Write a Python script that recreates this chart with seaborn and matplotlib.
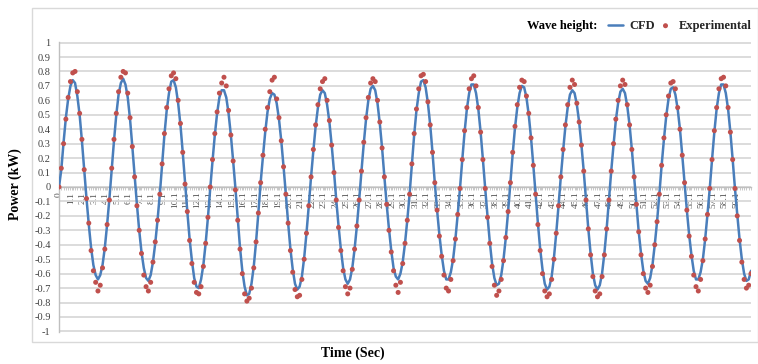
import numpy as np
import pandas as pd
import matplotlib
matplotlib.use("Agg")
import matplotlib.pyplot as plt
from matplotlib.patches import Rectangle
from matplotlib.ticker import MultipleLocator
import seaborn as sns

# Sampling interval of both records (seconds)
SAMPLE_STEP = 0.2

# CFD power output (kW), one row per wave cycle
cfd_power = [
    0.00, 0.12, 0.31, 0.48, 0.61, 0.70, 0.74, 0.72, 0.63, 0.50, 0.32, 0.12, -0.08, -0.26, -0.42, -0.54, -0.61, -0.64, -0.61, -0.54, -0.42, -0.26, -0.08,
    0.12, 0.32, 0.50, 0.64, 0.72, 0.75, 0.71, 0.62, 0.47, 0.28, 0.08, -0.12, -0.30, -0.45, -0.56, -0.63, -0.65, -0.61, -0.52, -0.39, -0.23, -0.05,
    0.16, 0.36, 0.53, 0.65, 0.73, 0.74, 0.69, 0.58, 0.43, 0.24, 0.03, -0.17, -0.36, -0.51, -0.63, -0.69, -0.70, -0.64, -0.54, -0.39, -0.21, -0.01,
    0.18, 0.36, 0.51, 0.62, 0.67, 0.67, 0.62, 0.51, 0.36, 0.18, -0.01, -0.22, -0.42, -0.58, -0.69, -0.75, -0.74, -0.67, -0.55, -0.38, -0.18,
    0.03, 0.21, 0.38, 0.52, 0.61, 0.65, 0.64, 0.58, 0.47, 0.32, 0.14, -0.05, -0.25, -0.43, -0.57, -0.67, -0.71, -0.69, -0.62, -0.49, -0.32, -0.13,
    0.07, 0.25, 0.42, 0.55, 0.64, 0.67, 0.65, 0.57, 0.45, 0.29, 0.11, -0.09, -0.27, -0.43, -0.56, -0.64, -0.67, -0.64, -0.56, -0.43, -0.27, -0.09,
    0.11, 0.30, 0.47, 0.60, 0.68, 0.70, 0.67, 0.58, 0.44, 0.27, 0.07, -0.12, -0.29, -0.44, -0.56, -0.62, -0.64, -0.60, -0.52, -0.39, -0.23, -0.05,
    0.16, 0.36, 0.53, 0.65, 0.73, 0.74, 0.69, 0.58, 0.43, 0.24, 0.03, -0.16, -0.33, -0.47, -0.58, -0.64, -0.64, -0.59, -0.50, -0.36, -0.19, -0.01,
    0.19, 0.38, 0.54, 0.65, 0.71, 0.71, 0.65, 0.54, 0.38, 0.19, -0.01, -0.20, -0.38, -0.53, -0.63, -0.68, -0.67, -0.61, -0.50, -0.35, -0.17,
    0.03, 0.23, 0.41, 0.55, 0.65, 0.70, 0.69, 0.62, 0.50, 0.34, 0.15, -0.05, -0.25, -0.43, -0.57, -0.67, -0.71, -0.69, -0.62, -0.49, -0.32, -0.13,
    0.07, 0.25, 0.42, 0.55, 0.64, 0.67, 0.65, 0.57, 0.45, 0.29, 0.11, -0.09, -0.29, -0.46, -0.60, -0.68, -0.71, -0.68, -0.60, -0.46, -0.29, -0.09,
    0.11, 0.29, 0.46, 0.58, 0.66, 0.68, 0.65, 0.56, 0.43, 0.26, 0.07, -0.12, -0.31, -0.46, -0.58, -0.65, -0.67, -0.63, -0.54, -0.40, -0.24, -0.05,
    0.15, 0.33, 0.49, 0.61, 0.68, 0.69, 0.64, 0.54, 0.40, 0.22, 0.03, -0.16, -0.33, -0.47, -0.58, -0.64, -0.64, -0.59, -0.50, -0.36, -0.19, -0.01,
    0.19, 0.38, 0.54, 0.65, 0.71, 0.71, 0.65, 0.54, 0.38, 0.19, -0.01, -0.19, -0.36, -0.50, -0.60, -0.65, -0.64, -0.58,
]

# Measured power output (kW), same sampling, one row per wave cycle
experimental_power = [
    0.00, 0.13, 0.30, 0.47, 0.62, 0.73, 0.79, 0.80, 0.66, 0.51, 0.33, 0.12, -0.08, -0.25, -0.44, -0.58, -0.66, -0.72, -0.68, -0.56, -0.43, -0.26, -0.09,
    0.13, 0.33, 0.51, 0.66, 0.76, 0.80, 0.79, 0.65, 0.48, 0.28, 0.07, -0.13, -0.30, -0.46, -0.61, -0.69, -0.72, -0.66, -0.52, -0.38, -0.23, -0.05,
    0.16, 0.37, 0.55, 0.68, 0.77, 0.79, 0.75, 0.60, 0.44, 0.24, 0.02, -0.17, -0.37, -0.53, -0.66, -0.73, -0.74, -0.69, -0.55, -0.39, -0.21, 0.00,
    0.19, 0.37, 0.52, 0.65, 0.72, 0.76, 0.70, 0.53, 0.36, 0.18, -0.02, -0.23, -0.43, -0.60, -0.74, -0.79, -0.77, -0.70, -0.56, -0.38, -0.18,
    0.03, 0.22, 0.40, 0.55, 0.66, 0.74, 0.76, 0.61, 0.48, 0.32, 0.14, -0.05, -0.25, -0.44, -0.59, -0.71, -0.76, -0.75, -0.64, -0.50, -0.32, -0.13,
    0.07, 0.26, 0.43, 0.57, 0.68, 0.73, 0.75, 0.60, 0.46, 0.29, 0.10, -0.09, -0.28, -0.44, -0.58, -0.69, -0.74, -0.70, -0.57, -0.43, -0.27, -0.09,
    0.11, 0.31, 0.48, 0.62, 0.72, 0.75, 0.73, 0.60, 0.45, 0.27, 0.07, -0.12, -0.30, -0.45, -0.58, -0.68, -0.73, -0.66, -0.53, -0.39, -0.23, -0.05,
    0.16, 0.37, 0.54, 0.68, 0.77, 0.78, 0.73, 0.59, 0.43, 0.24, 0.03, -0.16, -0.34, -0.48, -0.61, -0.70, -0.72, -0.64, -0.51, -0.36, -0.19, -0.01,
    0.19, 0.39, 0.55, 0.68, 0.75, 0.77, 0.70, 0.55, 0.38, 0.19, -0.01, -0.21, -0.39, -0.55, -0.68, -0.75, -0.72, -0.64, -0.51, -0.35, -0.17,
    0.03, 0.24, 0.42, 0.57, 0.69, 0.74, 0.73, 0.63, 0.51, 0.34, 0.15, -0.05, -0.26, -0.44, -0.60, -0.72, -0.76, -0.74, -0.64, -0.50, -0.32, -0.13,
    0.07, 0.26, 0.43, 0.57, 0.69, 0.74, 0.71, 0.58, 0.45, 0.29, 0.11, -0.09, -0.29, -0.47, -0.62, -0.72, -0.76, -0.74, -0.62, -0.47, -0.29, -0.09,
    0.11, 0.30, 0.47, 0.60, 0.70, 0.74, 0.71, 0.57, 0.43, 0.26, 0.07, -0.12, -0.31, -0.47, -0.60, -0.70, -0.73, -0.68, -0.55, -0.40, -0.24, -0.05,
    0.15, 0.34, 0.50, 0.63, 0.72, 0.73, 0.68, 0.55, 0.40, 0.22, 0.03, -0.16, -0.34, -0.48, -0.61, -0.69, -0.72, -0.64, -0.51, -0.36, -0.19, -0.01,
    0.19, 0.39, 0.55, 0.68, 0.75, 0.76, 0.70, 0.55, 0.38, 0.19, -0.01, -0.20, -0.37, -0.52, -0.64, -0.70, -0.68, -0.60,
]

time_tick_labels = [
    "0", "1.1", "2.1", "3.1", "4.1", "5.1", "6.1", "7.1", "8.1", "9.1",
    "10.1", "11.1", "12.1", "13.1", "14.1", "15.1", "16.1", "17.1", "18.1", "19.1",
    "20.1", "21.1", "22.1", "23.1", "24.1", "25.1", "26.1", "27.1", "28.1", "29.1",
    "30.1", "31.1", "32.1", "33.1", "34.1", "35.1", "36.1", "37.1", "38.1", "39.1",
    "40.1", "41.1", "42.1", "43.1", "44.1", "45.1", "46.1", "47.1", "48.1", "49.1",
    "50.1", "51.1", "52.1", "53.1", "54.1", "55.1", "56.1", "57.1", "58.1", "59.1",
]

power_tick_labels = [
    "1", "0.9", "0.8", "0.7", "0.6", "0.5", "0.4", "0.3", "0.2", "0.1", "0",
    "-0.1", "-0.2", "-0.3", "-0.4", "-0.5", "-0.6", "-0.7", "-0.8", "-0.9", "-1",
]

CFD_BLUE = "#4A7EBB"
EXP_RED = "#C0504D"
GRID_GREY = "#D9D9D9"
AXIS_GREY = "#BFBFBF"
TICK_TEXT = "#404040"

sns.set_theme(style="white")
plt.rcParams["font.family"] = ["Liberation Serif", "DejaVu Serif"]

time_s = np.arange(len(cfd_power)) * SAMPLE_STEP
df = pd.DataFrame({
    "Time": time_s,
    "CFD": cfd_power,
    "Experimental": experimental_power,
})

W_PX, H_PX = 758, 364
fig = plt.figure(figsize=(W_PX / 100, H_PX / 100), dpi=100)
fig.patch.set_facecolor("white")

# Plot area in pixel terms: x 59..751, y 42..332
ax = fig.add_axes([59 / W_PX, (H_PX - 332) / H_PX, 692 / W_PX, 290 / H_PX])
ax.set_facecolor("white")

sns.lineplot(data=df, x="Time", y="CFD", ax=ax, color=CFD_BLUE,
             linewidth=1.8, label="CFD", sort=False, zorder=3)
sns.scatterplot(data=df, x="Time", y="Experimental", ax=ax, color=EXP_RED,
                s=13, marker="o", edgecolor="none", label="Experimental",
                zorder=4)

ax.set_xlim(0, time_s[-1])
ax.set_ylim(-1.004, 1.004)

# Horizontal gridlines only
power_ticks = [float(s) for s in power_tick_labels]
ax.set_yticks(power_ticks)
ax.set_yticklabels(power_tick_labels)
ax.yaxis.grid(True, color=GRID_GREY, linewidth=1.3)
ax.xaxis.grid(False)
ax.set_axisbelow(True)

# Time axis drawn through zero, labels rotated
time_ticks = [float(s) for s in time_tick_labels]
ax.set_xticks(time_ticks)
ax.set_xticklabels(time_tick_labels)
ax.xaxis.set_minor_locator(MultipleLocator(SAMPLE_STEP))

for side in ("top", "right"):
    ax.spines[side].set_visible(False)
ax.spines["left"].set_color(AXIS_GREY)
ax.spines["left"].set_linewidth(1.0)
ax.spines["bottom"].set_position(("data", 0))
ax.spines["bottom"].set_color(AXIS_GREY)
ax.spines["bottom"].set_linewidth(1.0)

ax.tick_params(axis="x", which="both", direction="out", length=2.5,
               width=0.6, color=AXIS_GREY, pad=1, labelsize=6.8,
               labelcolor="#505050", bottom=True, labelrotation=90)
ax.tick_params(axis="y", which="both", length=0, pad=6, labelsize=7.5,
               labelcolor=TICK_TEXT)

ax.set_xlabel("Time (Sec)", fontsize=10, fontweight="bold", color="black")
ax.xaxis.set_label_coords((352.7 - 59) / 692, (332 - 347) / 290)
ax.set_ylabel("Power (kW)", fontsize=10, fontweight="bold", color="black")
ax.yaxis.label.set_va("center")
ax.yaxis.set_label_coords((15 - 59) / 692, (332 - 184) / 290)

# Legend strip above the plot area
handles, labels = ax.get_legend_handles_labels()
ax.legend(handles, labels, loc="center left",
          bbox_to_anchor=(608 / W_PX, 1 - 26 / H_PX),
          bbox_transform=fig.transFigure, ncol=2, frameon=False,
          borderpad=0, borderaxespad=0, handlelength=1.2,
          handletextpad=0.5, columnspacing=0.25, markerscale=1.0,
          prop={"size": 9, "weight": "bold"})
fig.text(527 / W_PX, 1 - 26 / H_PX, "Wave height:", ha="left", va="center",
         fontsize=9, fontweight="bold", color="black")

# Chart border
fig.add_artist(Rectangle((32 / W_PX, 1 - 342 / H_PX), (W_PX - 32.5) / W_PX,
                         (342 - 8) / H_PX, transform=fig.transFigure,
                         fill=False, edgecolor=GRID_GREY, linewidth=1.0))

fig.savefig("out.png", dpi=100, facecolor="white")
